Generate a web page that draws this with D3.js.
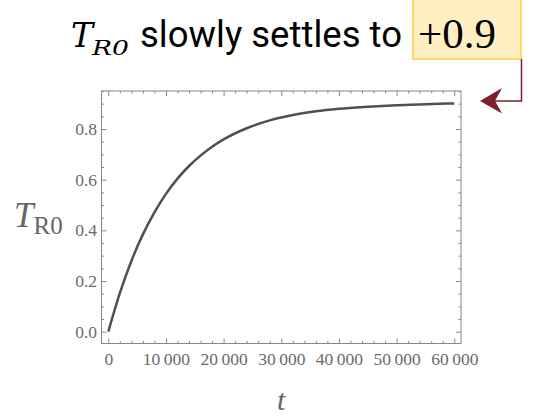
<!DOCTYPE html>
<html>
<head>
<meta charset="utf-8">
<script src="https://cdn.jsdelivr.net/npm/d3@7"></script>
<style>
  body { margin: 0; background: #fff; }
</style>
</head>
<body>
<div class="chart"></div>
<script>
// data
var times = [0, 2000, 4000, 6000, 8000, 10000, 12000, 14000, 16000, 18000, 20000,
  24000, 28000, 32000, 36000, 40000, 45000, 50000, 55000, 60000];
var tr0 = [0, 0.152, 0.279, 0.384, 0.471, 0.544, 0.604, 0.654, 0.695, 0.730, 0.759,
  0.803, 0.834, 0.855, 0.870, 0.880, 0.888, 0.894, 0.898, 0.901];
var xTicks = [0, 10000, 20000, 30000, 40000, 50000, 60000];
var yTicks = [0, 0.2, 0.4, 0.6, 0.8];

var svgWidth = 539;
var svgHeight = 419;

var svg = d3.select(".chart")
  .append("svg")
  .attr("width", svgWidth)
  .attr("height", svgHeight);

// plot frame (Mathematica style padding around the data)
var frame = { left: 101.5, right: 461, top: 91, bottom: 343.5 };

var x = d3.scaleLinear().domain([-1180, 61170]).range([frame.left, frame.right]);
var y = d3.scaleLinear().domain([-0.0466, 0.95]).range([frame.bottom, frame.top]);

var xMinor = d3.range(0, 61000, 2000).filter(function(d) { return d % 10000 !== 0; });
var yMinor = d3.range(0, 0.951, 0.05).filter(function(d) { return Math.abs(d * 5 - Math.round(d * 5)) > 1e-6; });

function styleAxis(g) {
  g.select(".domain").remove();
  g.selectAll("line").attr("stroke", "#888").attr("stroke-width", 1);
  g.attr("font-family", "Liberation Serif, serif").attr("font-size", 17.5);
  g.selectAll("text").attr("fill", "#6a6a6a");
}

var fmtX = function(d) {
  if (d === 0) return "0";
  var s = String(d);
  return s.slice(0, s.length - 3) + "\u2009" + s.slice(-3);
};

// bottom
svg.append("g")
  .attr("transform", "translate(0," + frame.bottom + ")")
  .call(d3.axisBottom(x).tickValues(xTicks).tickSize(-5).tickPadding(9.5).tickFormat(fmtX))
  .call(styleAxis);
svg.append("g")
  .attr("transform", "translate(0," + frame.bottom + ")")
  .call(d3.axisBottom(x).tickValues(xMinor).tickSize(-2.5).tickFormat(""))
  .call(styleAxis);
// top
svg.append("g")
  .attr("transform", "translate(0," + frame.top + ")")
  .call(d3.axisTop(x).tickValues(xTicks).tickSize(-5).tickFormat(""))
  .call(styleAxis);
svg.append("g")
  .attr("transform", "translate(0," + frame.top + ")")
  .call(d3.axisTop(x).tickValues(xMinor).tickSize(-2.5).tickFormat(""))
  .call(styleAxis);
// left
svg.append("g")
  .attr("transform", "translate(" + frame.left + ",0)")
  .call(d3.axisLeft(y).tickValues(yTicks).tickSize(-5).tickPadding(4.5).tickFormat(d3.format(".1f")))
  .call(styleAxis);
svg.append("g")
  .attr("transform", "translate(" + frame.left + ",0)")
  .call(d3.axisLeft(y).tickValues(yMinor).tickSize(-2.5).tickFormat(""))
  .call(styleAxis);
// right
svg.append("g")
  .attr("transform", "translate(" + frame.right + ",0)")
  .call(d3.axisRight(y).tickValues(yTicks).tickSize(-5).tickFormat(""))
  .call(styleAxis);
svg.append("g")
  .attr("transform", "translate(" + frame.right + ",0)")
  .call(d3.axisRight(y).tickValues(yMinor).tickSize(-2.5).tickFormat(""))
  .call(styleAxis);

svg.append("rect")
  .attr("x", frame.left)
  .attr("y", frame.top)
  .attr("width", frame.right - frame.left)
  .attr("height", frame.bottom - frame.top)
  .attr("fill", "none")
  .attr("stroke", "#888")
  .attr("stroke-width", 1);

// the curve
var line = d3.line()
  .x(function(d, i) { return x(times[i]); })
  .y(function(d) { return y(d); })
  .curve(d3.curveMonotoneX);

svg.append("path")
  .datum(tr0)
  .attr("d", line)
  .attr("fill", "none")
  .attr("stroke", "#505050")
  .attr("stroke-width", 2.5);

// axis labels
var yLab = svg.append("text")
  .attr("x", 14)
  .attr("y", 227)
  .attr("fill", "#666")
  .attr("font-family", "Liberation Serif, serif");
yLab.append("tspan").attr("font-style", "italic").attr("font-size", 35).text("T");
yLab.append("tspan").attr("font-size", 25).attr("dy", 7).text("R0");

svg.append("text")
  .attr("x", x(30000))
  .attr("y", 410)
  .attr("text-anchor", "middle")
  .attr("fill", "#666")
  .attr("font-family", "Liberation Serif, serif")
  .attr("font-style", "italic")
  .attr("font-size", 30)
  .text("t");

// title with highlighted value
svg.append("rect")
  .attr("x", 413)
  .attr("y", -2)
  .attr("width", 108)
  .attr("height", 61)
  .attr("fill", "#FFEFC2")
  .attr("stroke", "#FFD966")
  .attr("stroke-width", 2);

svg.append("text")
  .attr("x", 71)
  .attr("y", 47)
  .attr("font-family", "DejaVu Serif, serif")
  .attr("font-style", "italic")
  .attr("font-size", 33)
  .text("T");
svg.append("text")
  .attr("x", 92)
  .attr("y", 55)
  .attr("font-family", "DejaVu Serif, serif")
  .attr("font-style", "italic")
  .attr("font-size", 21)
  .attr("textLength", 37)
  .attr("lengthAdjust", "spacingAndGlyphs")
  .text("R0");
svg.append("text")
  .attr("x", 140)
  .attr("y", 47)
  .attr("font-family", "Roboto, sans-serif")
  .attr("font-size", 37)
  .attr("textLength", 262)
  .attr("lengthAdjust", "spacingAndGlyphs")
  .text("slowly settles to");
svg.append("text")
  .attr("x", 418)
  .attr("y", 48)
  .attr("font-family", "Liberation Serif, serif")
  .attr("font-size", 43)
  .text("+0.9");

// arrow pointing to the plateau
var arrowColor = "#7E1E2E";
svg.append("path")
  .attr("d", "M521.5,59 V101 H494")
  .attr("fill", "none")
  .attr("stroke", arrowColor)
  .attr("stroke-width", 1.5);
svg.append("path")
  .attr("d", "M480,101 L502,88 L495,101 L502,113.5 Z")
  .attr("fill", arrowColor);
</script>
</body>
</html>
